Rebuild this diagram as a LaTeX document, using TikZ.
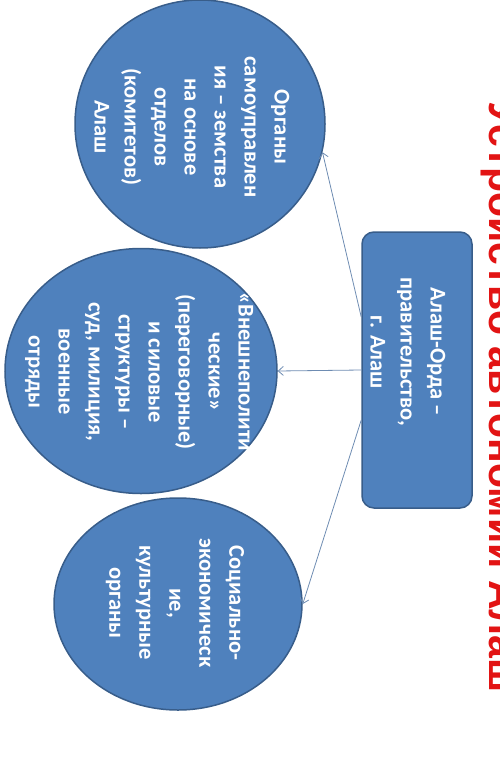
\documentclass[tikz,border=0pt]{standalone}
\usepackage{fontspec}
\setmainfont{Carlito}
\newfontfamily\titlefont{Liberation Sans}
\usepackage{tikz}
\usetikzlibrary{shapes.geometric, arrows.meta}
\definecolor{orgblue}{RGB}{79,129,189}
\definecolor{orgedge}{RGB}{56,93,138}
\definecolor{linkgray}{RGB}{110,140,178}
\definecolor{titlered}{RGB}{226,20,20}

\begin{document}
\begin{tikzpicture}[x=1pt,y=-1pt,
	organ/.style={ellipse,draw=orgedge,line width=1.5pt,fill=orgblue,inner sep=0pt},
	govbox/.style={rectangle,rounded corners=12pt,draw=orgedge,line width=1.5pt,fill=orgblue,minimum width=110pt,minimum height=276pt},
	organtext/.style={rotate=-90,text=white,font=\bfseries\fontsize{22.5}{30}\selectfont,align=center},
	link/.style={-{Straight Barb[length=5pt,width=9pt]},line width=0.8pt,draw=linkgray}]
	\useasboundingbox (0,0) rectangle (500,776);
	\clip (0,0) rectangle (500,776);
	
	%circles
	\node[organ,minimum width=250pt,minimum height=248pt] (self) at (200,124) {};
	\node[organ,minimum width=272pt,minimum height=245pt] (ext)  at (141,371) {};
	\node[organ,minimum width=248pt,minimum height=212pt] (econ) at (178,604) {};
	
	%government box
	\node[govbox] (gov) at (417,370) {};
	
	%arrows
	\draw[link] ([yshift=53pt]gov.west)  -- (self.-13);	%gov--self
	\draw[link] (gov.west)               -- (ext.east);	%gov--ext
	\draw[link] ([yshift=-50pt]gov.west) -- (econ.east);	%gov--econ
	
	%texts
	\node[organtext] (selftext) at (192,127) {Органы\\самоуправлен\\ия – земства\\на основе\\отделов\\(комитетов)\\Алаш};
	\node[organtext] (exttext)  at (139,372) {«Внешнеполити\\ческие»\\(переговорные)\\и силовые\\структуры –\\суд, милиция,\\военные\\отряды};
	\node[organtext] (econtext) at (175,603) {Социально-\\экономическ\\ие,\\культурные\\органы};
	\node[organtext] (govtext)  at (408,352) {Алаш-Орда –\\правительство,\\г. Алаш};
	
	%title
	\node[rotate=-90,anchor=base,text=titlered,font=\titlefont\bfseries\fontsize{41}{41}\selectfont] (title) at (489,397) {Устройство автономии Алаш};
\end{tikzpicture}
\end{document}
